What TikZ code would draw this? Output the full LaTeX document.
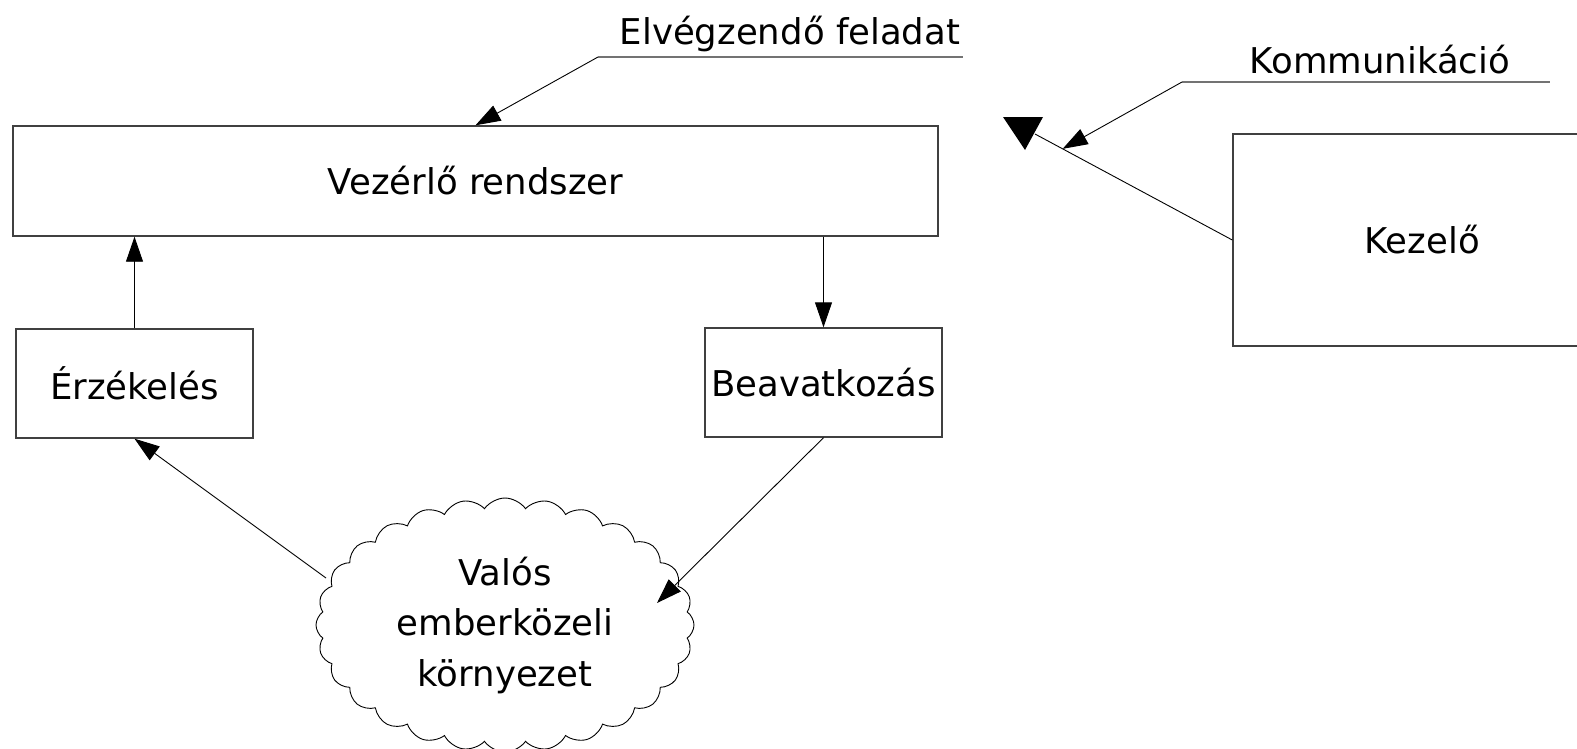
\documentclass[tikz,border=0pt]{standalone}
\usepackage{fontspec}
\setmainfont{DejaVu Sans}
\usetikzlibrary{arrows.meta,shapes.symbols,calc}
\begin{document}
\begin{tikzpicture}[x=1pt,y=-1pt,
  txt/.style={font=\fontsize{35.5}{50.5}\selectfont},
  box/.style={draw=black!75,line width=1.4pt,rectangle,inner sep=0pt,txt},
  conn/.style={draw=black,line width=0.9pt,-{Triangle[length=25pt,width=17pt]}},
  plain/.style={draw=black,line width=0.9pt},
  underline/.style={draw=black!55,line width=1.4pt}]
\useasboundingbox (0,0) rectangle (1577,748);
\clip (0,0) rectangle (1577,748);
\fill[white] (0,0) rectangle (1577,748);

\node[box,minimum width=925pt,minimum height=110pt] (main) at (475.5,181) {Vezérlő rendszer};
\node[box,minimum width=237pt,minimum height=109pt] (erz) at (134.5,383.5) {Érzékelés};
\node[box,minimum width=237pt,minimum height=109pt] (beav) at (823.5,382.5) {Beavatkozás};
\node[box,minimum width=378pt,minimum height=212pt] (kez) at (1422,240) {Kezelő};
\node[cloud,draw=black,line width=0.9pt,cloud puffs=28,cloud puff arc=110,cloud ignores aspect,
      minimum width=378pt,minimum height=254pt,inner sep=0pt,align=center,txt] (env) at (505,625)
      {Valós\\emberközeli\\környezet};

% labels
\node[txt,anchor=base] (task) at (790,44) {Elvégzendő feladat};
\coordinate (taskL) at (598,57);
\coordinate (taskR) at (963,57);
\draw[underline] (taskL) -- (taskR);
\draw[conn] (taskL) -- (main.north);

\node[txt,anchor=base] (comm) at (1380,73) {Kommunikáció};
\coordinate (commL) at (1182,82);
\coordinate (commR) at (1550,82);
\draw[underline] (commL) -- (commR);

% operator line with big triangle
\coordinate (tri) at (1035,134);
\fill (1003,117) -- (1043,117) -- (1025,150) -- cycle;
\draw[plain] (kez.west) -- (tri);
\coordinate (commT) at ($(kez.west)!0.86!(tri)$);
\draw[conn] (commL) -- (commT);

% flow
\draw[conn] (erz.north) -- (erz.north |- main.south);
\draw[conn] (beav.north |- main.south) -- (beav.north);
\coordinate (envL) at (326,578);
\coordinate (envR) at (657,603);
\draw[conn] (envL) -- (erz.south);
\draw[conn] (beav.south) -- (envR);
\end{tikzpicture}
\end{document}
